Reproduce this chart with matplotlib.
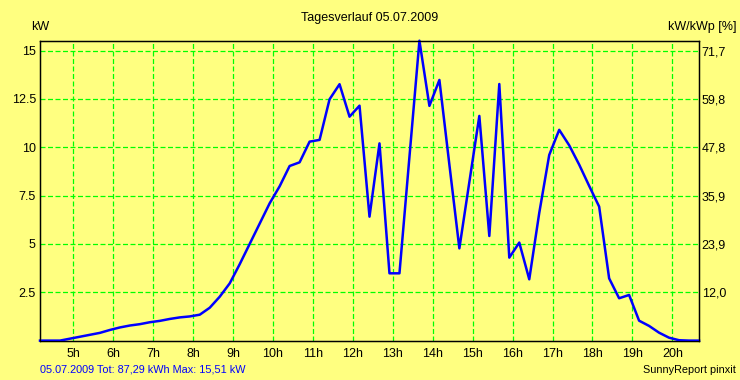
import matplotlib.pyplot as plt
import numpy as np

# 15-minute samples from 4:10 to 20:40
start_hour = 4 + 10 / 60
power_kw = [
    0.0, 0.0, 0.0, 0.1, 0.2, 0.3, 0.4, 0.55, 0.68, 0.78,
    0.85, 0.95, 1.02, 1.12, 1.2, 1.25, 1.34, 1.7, 2.27, 2.96,
    3.95, 5.0, 6.05, 7.1, 7.98, 9.03, 9.22, 10.29, 10.38, 12.48,
    13.26, 11.58, 12.15, 6.41, 10.2, 3.48, 3.48, 9.5, 15.51, 12.14,
    13.48, 9.1, 4.77, 8.2, 11.62, 5.41, 13.27, 4.29, 5.07, 3.17,
    6.6, 9.6, 10.9, 10.1, 9.1, 8.0, 6.93, 3.22, 2.19, 2.36,
    1.03, 0.76, 0.41, 0.15, 0.02, 0.0, 0.0,
]
hours = start_hour + 0.25 * np.arange(len(power_kw))

y_ticks = [2.5, 5, 7.5, 10, 12.5, 15]
y_labels = ["2.5", "5", "7.5", "10", "12.5", "15"]
pct_labels = ["12,0", "23,9", "35,9", "47,8", "59,8", "71,7"]
hour_ticks = list(range(5, 21))
hour_labels = [f"{h}h" for h in hour_ticks]

bg = "#ffff80"
grid_green = "#00ff00"
plt.rcParams["font.family"] = ["Liberation Sans", "DejaVu Sans"]

fig = plt.figure(figsize=(7.4, 3.8), dpi=100, facecolor=bg)
ax = fig.add_axes([40 / 740, 39.4 / 380, 659 / 740, 299.9 / 380])
ax.set_facecolor(bg)

ax.plot(hours, power_kw, color="#0000ff", linewidth=1.8, zorder=3, clip_on=False)

ax.set_xlim(hours[0], hours[-1])
ax.set_ylim(0, 15.51)
ax.set_xticks(hour_ticks)
ax.set_xticklabels(hour_labels)
ax.set_yticks(y_ticks)
ax.set_yticklabels(y_labels)
ax.tick_params(axis="both", length=0, labelsize=9)
ax.tick_params(axis="y", pad=3)
ax.tick_params(axis="x", pad=5)
ax.grid(True, color=grid_green, linestyle=(0, (4, 2)), linewidth=0.9)
for sp in ax.spines.values():
    sp.set_color("black")
    sp.set_linewidth(1.0)

ax2 = ax.twinx()
ax2.set_ylim(ax.get_ylim())
ax2.set_yticks(y_ticks)
ax2.set_yticklabels(pct_labels)
ax2.tick_params(axis="y", length=0, labelsize=9, pad=2)

fig.text(0.5, 1 - 18 / 380, "Tagesverlauf 05.07.2009", ha="center", va="center", fontsize=9)
fig.text(40 / 740, 1 - 26.5 / 380, "kW", ha="center", va="center", fontsize=9)
fig.text(737 / 740, 1 - 27 / 380, "kW/kWp [%]", ha="right", va="center", fontsize=9)
fig.text(40 / 740, 1 - 369 / 380, "05.07.2009 Tot: 87,29 kWh Max: 15,51 kW",
         ha="left", va="center", fontsize=7.8, color="#0000ff")
fig.text(736 / 740, 1 - 370 / 380, "SunnyReport pinxit", ha="right", va="center", fontsize=7.8)

fig.savefig("out.png", dpi=100, facecolor=bg)
